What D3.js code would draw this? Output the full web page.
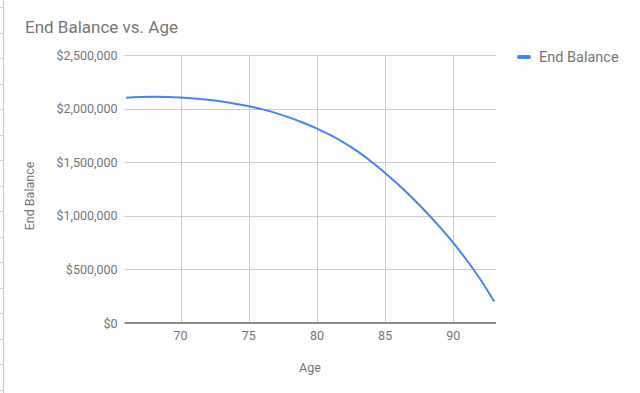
<!DOCTYPE html>
<html>
<head>
<meta charset="utf-8">
<script src="https://cdn.jsdelivr.net/npm/d3@7"></script>
<style>
  body { margin: 0; background: #fff; }
  svg { display: block; font-family: Roboto, Arial, sans-serif; }
</style>
</head>
<body>
<svg id="chart" width="640" height="393"></svg>
<script>
// data
var ages = [66, 67, 68, 69, 70, 71, 72, 73, 74, 75, 76, 77, 78, 79,
  80, 81, 82, 83, 84, 85, 86, 87, 88, 89, 90, 91, 92, 93];
var endBalance = [2102000, 2108000, 2110000, 2109000, 2104000, 2095000, 2082000,
  2066000, 2046000, 2022000, 1993000, 1958000, 1916000, 1868000,
  1814000, 1752000, 1681000, 1599000, 1505000, 1400000, 1287000,
  1166000, 1036000, 897000, 748000, 583000, 403000, 200000];
var xTicks = [70, 75, 80, 85, 90];
var yTicks = [0, 500000, 1000000, 1500000, 2000000, 2500000];
var seriesName = "End Balance";

var svg = d3.select("#chart");
var plotLeft = 124.7, plotRight = 496, plotTop = 55, plotBottom = 323;

var x = d3.scaleLinear().domain([65.9, 93.13]).range([plotLeft, plotRight]);
var y = d3.scaleLinear().domain([0, 2500000]).range([plotBottom, plotTop]);
var money = function (d) { return "$" + d3.format(",")(d); };

// spreadsheet edge on the left
svg.append("line")
  .attr("x1", 3.5).attr("x2", 3.5).attr("y1", 0).attr("y2", 393)
  .attr("stroke", "#c8c8c8").attr("stroke-width", 1);
svg.selectAll("line.row")
  .data(d3.range(7, 393, 25.5))
  .enter().append("line")
  .attr("class", "row")
  .attr("x1", 0).attr("x2", 3)
  .attr("y1", function (d) { return Math.round(d) + 0.5; })
  .attr("y2", function (d) { return Math.round(d) + 0.5; })
  .attr("stroke", "#d0d0d0");

// title
svg.append("text")
  .attr("x", 25).attr("y", 33)
  .attr("font-size", 17)
  .attr("fill", "#757575")
  .text("End Balance vs. Age");

// grid
svg.append("g").selectAll("line")
  .data(yTicks.filter(function (d) { return d > 0; }))
  .enter().append("line")
  .attr("x1", plotLeft).attr("x2", plotRight)
  .attr("y1", function (d) { return Math.round(y(d)) + 0.5; })
  .attr("y2", function (d) { return Math.round(y(d)) + 0.5; })
  .attr("stroke", "#cccccc");

svg.append("g").selectAll("line")
  .data(xTicks)
  .enter().append("line")
  .attr("x1", function (d) { return Math.round(x(d)) + 0.5; })
  .attr("x2", function (d) { return Math.round(x(d)) + 0.5; })
  .attr("y1", plotTop).attr("y2", plotBottom)
  .attr("stroke", "#cccccc");

// y labels
svg.append("g").selectAll("text")
  .data(yTicks)
  .enter().append("text")
  .attr("x", 117.5)
  .attr("y", function (d) { return y(d) + 4.5; })
  .attr("text-anchor", "end")
  .attr("font-size", 12.5)
  .attr("fill", "#757575")
  .text(money);

// x labels
svg.append("g").selectAll("text")
  .data(xTicks)
  .enter().append("text")
  .attr("x", function (d) { return x(d); })
  .attr("y", 340)
  .attr("text-anchor", "middle")
  .attr("font-size", 12.5)
  .attr("fill", "#757575")
  .text(function (d) { return d; });

// axis titles
svg.append("text")
  .attr("x", 310).attr("y", 372)
  .attr("text-anchor", "middle")
  .attr("font-size", 12.5)
  .attr("fill", "#757575")
  .text("Age");

svg.append("text")
  .attr("transform", "translate(34,196) rotate(-90)")
  .attr("text-anchor", "middle")
  .attr("font-size", 12.5)
  .attr("fill", "#757575")
  .text("End Balance");

// baseline
svg.append("line")
  .attr("x1", plotLeft).attr("x2", plotRight)
  .attr("y1", y(0)).attr("y2", y(0))
  .attr("stroke", "#666666").attr("stroke-width", 1.5);

// series
var line = d3.line()
  .x(function (d, i) { return x(ages[i]); })
  .y(function (d) { return y(d); })
  .curve(d3.curveMonotoneX);

svg.append("path")
  .datum(endBalance)
  .attr("d", line)
  .attr("fill", "none")
  .attr("stroke", "#4285f4")
  .attr("stroke-width", 2);

// legend
svg.append("line")
  .attr("x1", 519).attr("x2", 529)
  .attr("y1", 57).attr("y2", 57)
  .attr("stroke", "#4285f4").attr("stroke-width", 4)
  .attr("stroke-linecap", "round");
svg.append("text")
  .attr("x", 539).attr("y", 62)
  .attr("font-size", 14.5)
  .attr("fill", "#757575")
  .text(seriesName);
</script>
</body>
</html>
